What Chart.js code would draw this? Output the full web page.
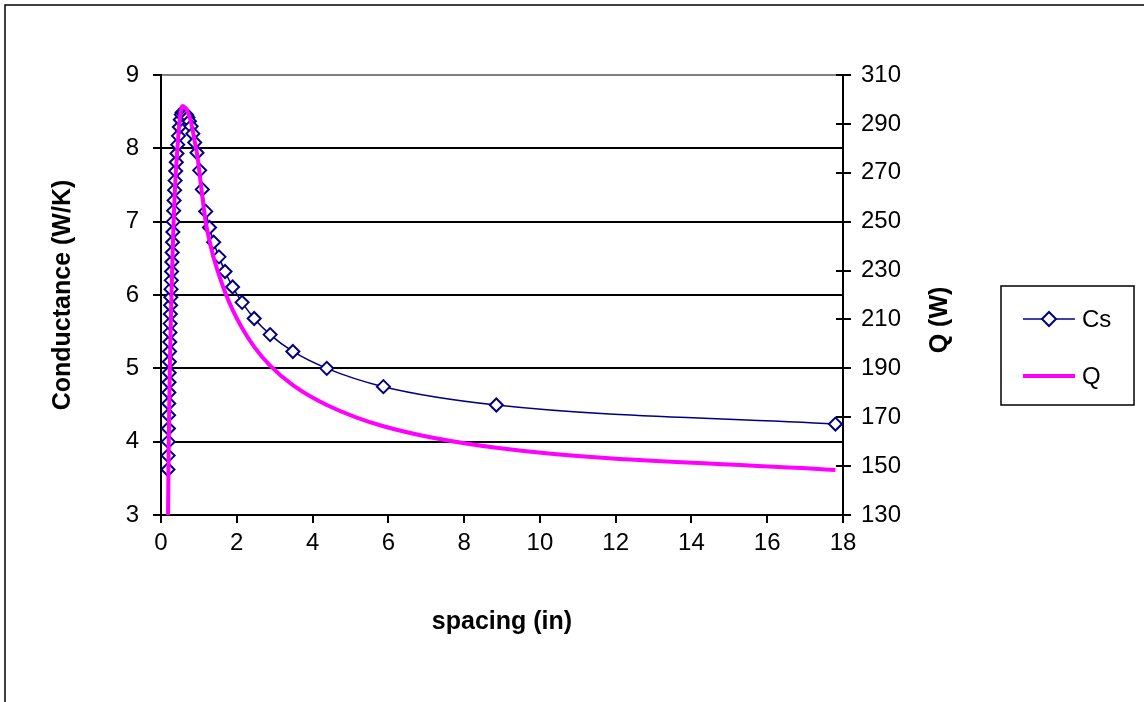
<!DOCTYPE html>
<html>
<head>
<meta charset="utf-8">
<script src="https://cdn.jsdelivr.net/npm/chart.js@4/dist/chart.umd.min.js"></script>
<style>
html, body { margin: 0; padding: 0; background: #fff; }
#wrap { position: relative; width: 1144px; height: 702px; }
</style>
</head>
<body>
<div id="wrap"><canvas id="myChart" width="1144" height="702"></canvas></div>
<script>
'use strict'

// spacing (in)
var spacing = [0.184, 0.188, 0.192, 0.196, 0.200, 0.204, 0.208, 0.212, 0.216, 0.221,
  0.226, 0.231, 0.236, 0.241, 0.247, 0.253, 0.259, 0.265, 0.272, 0.279,
  0.287, 0.295, 0.304, 0.313, 0.323, 0.334, 0.346, 0.359, 0.373, 0.388,
  0.404, 0.422, 0.441, 0.462, 0.485, 0.510, 0.535, 0.560, 0.590, 0.620,
  0.650, 0.680, 0.710, 0.750, 0.795, 0.840, 0.890, 0.950, 1.020, 1.090,
  1.180, 1.280, 1.390, 1.530, 1.690, 1.890, 2.140, 2.460, 2.880, 3.480,
  4.375, 5.870, 8.850, 17.80];

// Cs, conductance (W/K)
var conductance = [3.62, 3.81, 4.00, 4.18, 4.36, 4.52, 4.67, 4.81, 4.94, 5.09,
  5.23, 5.36, 5.49, 5.61, 5.74, 5.86, 5.97, 6.08, 6.20, 6.32,
  6.45, 6.58, 6.72, 6.86, 7.00, 7.15, 7.29, 7.43, 7.56, 7.69,
  7.81, 7.93, 8.05, 8.17, 8.29, 8.39, 8.46, 8.49, 8.49, 8.48,
  8.47, 8.45, 8.42, 8.37, 8.30, 8.20, 8.08, 7.94, 7.70, 7.44,
  7.14, 6.92, 6.72, 6.52, 6.32, 6.11, 5.90, 5.68, 5.46, 5.23,
  5.00, 4.75, 4.50, 4.24];

// Q (W)
var heatRate = [126.7, 133.4, 140.0, 146.3, 152.6, 158.2, 163.5, 168.4, 172.9, 178.2,
  183.1, 187.6, 192.2, 196.4, 200.9, 205.1, 209.0, 212.8, 217.0, 221.2,
  225.8, 230.3, 235.2, 240.1, 245.0, 250.3, 255.2, 260.1, 264.6, 269.2,
  273.4, 277.6, 281.8, 286.0, 290.2, 293.7, 296.1, 297.2, 297.2, 296.8,
  296.5, 295.8, 294.7, 293.0, 290.5, 287.0, 282.8, 277.9, 269.5, 260.4,
  249.9, 242.2, 235.2, 228.2, 221.2, 213.9, 206.5, 198.8, 191.1, 183.1,
  175.0, 166.3, 157.5, 148.4];

var xTicks = [0, 2, 4, 6, 8, 10, 12, 14, 16, 18];
var leftTicks = [3, 4, 5, 6, 7, 8, 9];
var rightTicks = [130, 150, 170, 190, 210, 230, 250, 270, 290, 310];

var FONT = '"Liberation Sans", Arial, sans-serif';
var NAVY = '#000080';
var MAGENTA = '#FF00FF';

function points(ys) {
  return spacing.map(function(x, i) { return { x: x, y: ys[i] }; });
}

function setTicks(list) {
  return function(scale) {
    scale.ticks = list.map(function(v) { return { value: v }; });
  };
}

var extras = {
  id: 'extras',
  afterDraw: function(chart) {
    var ctx = chart.ctx;
    var area = chart.chartArea;
    ctx.save();

    // outer chart border (only top and left are in the picture)
    ctx.strokeStyle = '#000';
    ctx.lineWidth = 1.5;
    ctx.beginPath();
    ctx.moveTo(5, 702);
    ctx.lineTo(5, 5);
    ctx.lineTo(1144, 5);
    ctx.stroke();

    // right axis ticks also cross inwards
    var y2 = chart.scales.y2;
    ctx.lineWidth = 2;
    ctx.beginPath();
    rightTicks.forEach(function(v) {
      var py = Math.round(y2.getPixelForValue(v));
      ctx.moveTo(area.right - 7, py);
      ctx.lineTo(area.right, py);
    });
    ctx.stroke();

    // axis titles
    ctx.fillStyle = '#000';
    ctx.font = 'bold 25px ' + FONT;
    ctx.textAlign = 'center';
    ctx.textBaseline = 'middle';
    ctx.fillText('spacing (in)', (area.left + area.right) / 2, 622);

    ctx.save();
    ctx.translate(63, (area.top + area.bottom) / 2);
    ctx.rotate(-Math.PI / 2);
    ctx.fillText('Conductance (W/K)', 0, 0);
    ctx.restore();

    ctx.save();
    ctx.translate(940, 320);
    ctx.rotate(-Math.PI / 2);
    ctx.fillText('Q (W)', 0, 0);
    ctx.restore();

    // legend
    ctx.strokeStyle = '#000';
    ctx.lineWidth = 1.5;
    ctx.strokeRect(1001, 286, 133, 119);

    ctx.strokeStyle = NAVY;
    ctx.lineWidth = 1.5;
    ctx.beginPath();
    ctx.moveTo(1023, 319);
    ctx.lineTo(1075, 319);
    ctx.stroke();
    ctx.beginPath();
    ctx.moveTo(1042, 319);
    ctx.lineTo(1049, 312);
    ctx.lineTo(1056, 319);
    ctx.lineTo(1049, 326);
    ctx.closePath();
    ctx.fillStyle = '#fff';
    ctx.fill();
    ctx.lineWidth = 2;
    ctx.stroke();

    ctx.strokeStyle = MAGENTA;
    ctx.lineWidth = 4;
    ctx.beginPath();
    ctx.moveTo(1023, 376);
    ctx.lineTo(1075, 376);
    ctx.stroke();

    ctx.fillStyle = '#000';
    ctx.font = '24px ' + FONT;
    ctx.textAlign = 'left';
    ctx.fillText('Cs', 1082, 320);
    ctx.fillText('Q', 1082, 377);

    ctx.restore();
  }
};

var ctx = document.getElementById('myChart').getContext('2d');

var myChart = new Chart(ctx, {
  type: 'line',
  data: {
    datasets: [{
      label: 'Q',
      data: points(heatRate),
      yAxisID: 'y2',
      borderColor: MAGENTA,
      borderWidth: 4,
      pointRadius: 0,
      fill: false,
      cubicInterpolationMode: 'monotone',
      clip: 0,
      order: 0
    }, {
      label: 'Cs',
      data: points(conductance),
      yAxisID: 'y',
      borderColor: NAVY,
      borderWidth: 1.5,
      pointStyle: 'rectRot',
      pointRadius: 6.5,
      pointBackgroundColor: '#fff',
      pointBorderColor: NAVY,
      pointBorderWidth: 2,
      fill: false,
      cubicInterpolationMode: 'monotone',
      order: 1
    }]
  },
  options: {
    responsive: false,
    animation: false,
    devicePixelRatio: 1,
    layout: { padding: { top: 75, left: 0, right: 0, bottom: 0 } },
    plugins: {
      legend: { display: false },
      tooltip: { enabled: false }
    },
    scales: {
      x: {
        type: 'linear',
        position: 'bottom',
        min: 0,
        max: 18,
        afterBuildTicks: setTicks(xTicks),
        afterFit: function(s) { s.height = 187; },
        ticks: { color: '#000', font: { family: FONT, size: 24 }, padding: 6, maxRotation: 0, autoSkip: false },
        grid: { drawOnChartArea: false, tickLength: 8, color: '#000', lineWidth: 2 },
        border: { color: '#000', width: 2 }
      },
      y: {
        type: 'linear',
        position: 'left',
        min: 3,
        max: 9,
        afterBuildTicks: setTicks(leftTicks),
        afterFit: function(s) { s.width = 161; },
        ticks: { color: '#000', font: { family: FONT, size: 24 }, padding: 14 },
        grid: {
          color: function(c) { return c.tick && c.tick.value === 9 ? '#808080' : '#000'; },
          tickColor: '#000',
          lineWidth: 2,
          tickLength: 8
        },
        border: { color: '#000', width: 2 }
      },
      y2: {
        type: 'linear',
        position: 'right',
        min: 130,
        max: 310,
        afterBuildTicks: setTicks(rightTicks),
        afterFit: function(s) { s.width = 301; },
        ticks: { color: '#000', font: { family: FONT, size: 24 }, padding: 10 },
        grid: { drawOnChartArea: false, tickLength: 8, color: '#000', lineWidth: 2 },
        border: { color: '#000', width: 2 }
      }
    }
  },
  plugins: [extras]
});
</script>
</body>
</html>
